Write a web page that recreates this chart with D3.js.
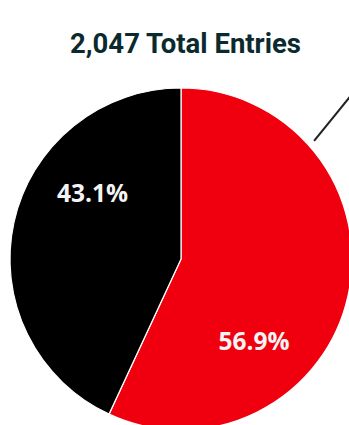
<!DOCTYPE html>
<html><head><meta charset="utf-8">
<script src="https://cdn.jsdelivr.net/npm/d3@7"></script>
<style>html,body{margin:0;padding:0;background:#fff;overflow:hidden}</style>
</head><body>
<svg id="c" width="349" height="425"></svg>
<script>
const categories = ["Red", "Black"];
const values = [1165, 882];
const colors = ["#f0000f", "#000000"];
const labelShift = [36, 24]; // degrees label rotated from slice middle
const total = d3.sum(values);

const svg = d3.select("#c");
svg.append("text").attr("x", 185.5).attr("y", 53).attr("text-anchor", "middle")
  .attr("font-family", "Roboto").attr("font-weight", 700).attr("font-size", 27.5)
  .attr("fill", "#0b2a2e").text(d3.format(",")(total) + " Total Entries");

const cx = 181, cy = 259, R = 171;
const g = svg.append("g").attr("transform", `translate(${cx},${cy})`);
const pie = d3.pie().sort(null).value(d => d.v);
const arcs = pie(values.map((v, i) => ({v, i})));
const arc = d3.arc().innerRadius(0).outerRadius(R);
g.selectAll("path").data(arcs).join("path")
  .attr("d", arc).attr("fill", d => colors[d.data.i])
  .attr("stroke", "#fff").attr("stroke-width", 1.2);

const fmt = d3.format(".1%");
g.selectAll("text.l").data(arcs).join("text").attr("class", "l")
  .attr("transform", d => {
    const a = (d.startAngle + d.endAngle) / 2 + labelShift[d.data.i] * Math.PI / 180;
    const r = 110;
    return `translate(${r * Math.sin(a)},${-r * Math.cos(a)})`;
  })
  .attr("text-anchor", "middle").attr("dy", "0.36em")
  .attr("font-family", "Open Sans").attr("font-weight", 700).attr("font-size", 24.5)
  .attr("fill", "#f4f4f4").text(d => fmt(d.data.v / total));

// leader line going off chart
const la = 48.4 * Math.PI / 180;
const dir = Math.atan2(-43, 35);
const r0 = R + 7;
const x0 = r0 * Math.sin(la), y0 = -r0 * Math.cos(la);
g.append("line").attr("x1", x0).attr("y1", y0)
  .attr("x2", x0 + 80 * Math.cos(dir)).attr("y2", y0 + 80 * Math.sin(dir))
  .attr("stroke", "#222").attr("stroke-width", 2);
</script>
</body></html>
